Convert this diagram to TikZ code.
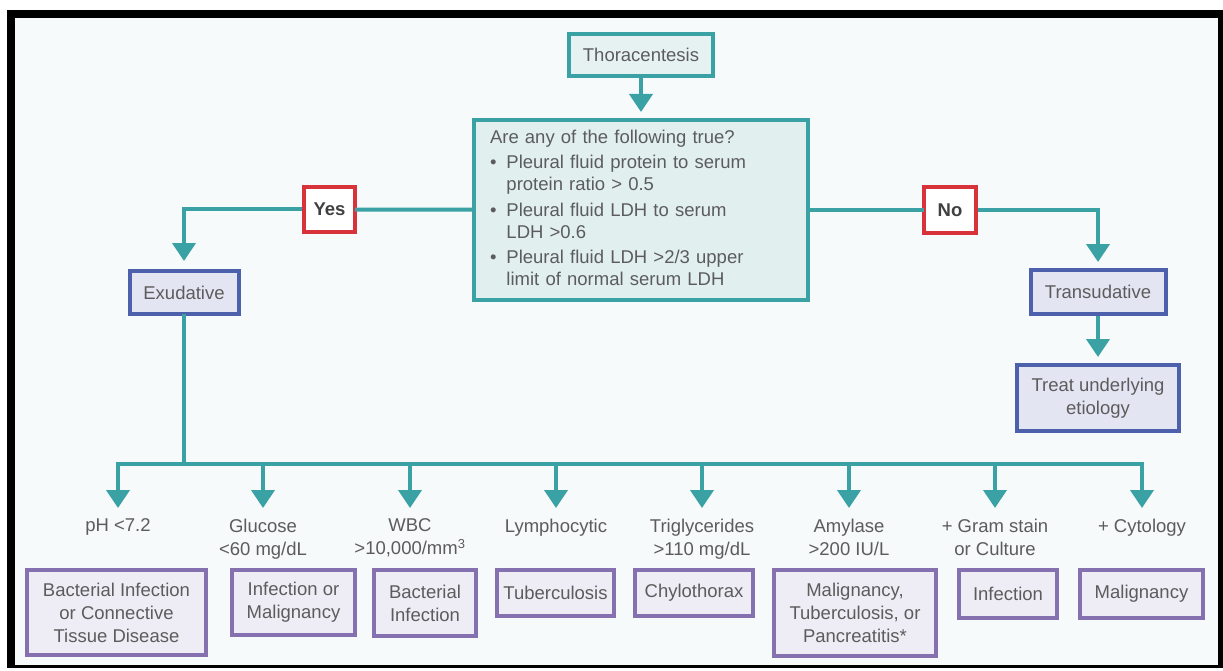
\documentclass[tikz,border=0pt]{standalone}
\usepackage{fontspec}
\setmainfont{Liberation Sans}
\usetikzlibrary{arrows.meta}

\definecolor{tealline}{HTML}{3AA2A4}
\definecolor{thorfill}{HTML}{E6F2F2}
\definecolor{questfill}{HTML}{E1EFEF}
\definecolor{redbox}{HTML}{D8333B}
\definecolor{exuborder}{HTML}{4C60AC}
\definecolor{exufill}{HTML}{E4E5F3}
\definecolor{leafborder}{HTML}{8570B0}
\definecolor{leaffill}{HTML}{EEECF5}
\definecolor{bgcol}{HTML}{F7FAFA}
\definecolor{txtgray}{HTML}{5C5C5C}

\begin{document}
\begin{tikzpicture}[x=1pt,y=-1pt,
			every node/.style={font=\fontsize{18.5}{23}\selectfont,text=txtgray,align=center},
			startbox/.style={draw=tealline,line width=4pt,fill=thorfill},
			questbox/.style={draw=tealline,line width=4pt,fill=questfill,align=left,text width=302pt,inner xsep=16pt,minimum height=180pt,font=\fontsize{18.5}{22}\selectfont},
			answer/.style={draw=redbox,line width=4pt,fill=white,text=black!75,font=\fontsize{18.5}{23}\selectfont\bfseries},
			typebox/.style={draw=exuborder,line width=4pt,fill=exufill},
			leaf/.style={draw=leafborder,line width=4pt,fill=leaffill,anchor=north},
			test/.style={anchor=north,inner sep=0pt,outer sep=0pt},
			link/.style={draw=tealline,line width=4pt,line cap=rect},
			arr/.style={draw=tealline,line width=4pt,-{Triangle[width=23pt,length=18pt]}}]

			      % 边框和底色
			      \useasboundingbox (0,0) rectangle (1223,671);
			      \fill[black] (7,10) rectangle (1223,668);                        % 黑框
			      \fill[bgcol] (15,18) rectangle (1218,665);                       % 底色

			      % 上部节点
			      \node[startbox,minimum width=144pt,minimum height=42pt] (thor) at (641,55) {Thoracentesis};
			      \node[questbox] (quest) at (641,210) {%
			        \begin{tabular}{@{}l@{\hspace{10pt}}l@{}}
			          \multicolumn{2}{@{}l@{}}{Are any of the following true?}\\[3pt]
			          \textbullet & Pleural fluid protein to serum\\
			                      & protein ratio > 0.5\\[4pt]
			          \textbullet & Pleural fluid LDH to serum\\
			                      & LDH >0.6\\[3pt]
			          \textbullet & Pleural fluid LDH >2/3 upper\\
			                      & limit of normal serum LDH
			        \end{tabular}};
			      \node[answer,minimum width=51pt,minimum height=45pt] (yes) at (329.5,209.5) {Yes};
			      \node[answer,minimum width=52pt,minimum height=46pt] (no) at (950,210) {No};
			      \node[typebox,minimum width=109pt,minimum height=43pt] (exu) at (184,292.5) {Exudative};
			      \node[typebox,minimum width=135pt,minimum height=44pt] (trans) at (1098,292) {Transudative};
			      \node[typebox,minimum width=162pt,minimum height=66pt] (treat) at (1098,398) {Treat underlying\\etiology};

			      % 上部连线
			      \draw[arr,shorten >=6pt] (thor) -- (quest);
			      \draw[link] (quest) -- (yes);
			      \draw[arr,shorten >=8pt] (yes) -| (exu);
			      \draw[link] (quest) -- (no);
			      \draw[arr,shorten >=6pt] (no) -| (trans);
			      \draw[arr,shorten >=6pt] (trans) -- (treat);

			      % 检查项目
			      \node[test] (ph) at (118,519) {pH <7.2};
			      \node[test] (glu) at (263,519) {Glucose\\<60 mg/dL};
			      \node[test] (wbc) at (410,519) {WBC\\>10,000/mm\textsuperscript{3}};
			      \node[test] (lym) at (556,519) {Lymphocytic};
			      \node[test] (tri) at (702,519) {Triglycerides\\>110 mg/dL};
			      \node[test] (amy) at (849,519) {Amylase\\>200 IU/L};
			      \node[test] (gram) at (995,519) {+ Gram stain\\or Culture};
			      \node[test] (cyt) at (1142,519) {+ Cytology};

			      % 诊断框
			      \node[leaf,minimum width=179pt,minimum height=85pt] (d1) at (116.5,568) {Bacterial Infection\\or Connective\\Tissue Disease};
			      \node[leaf,minimum width=123pt,minimum height=65pt] (d2) at (293.5,568) {Infection or\\Malignancy};
			      \node[leaf,minimum width=102pt,minimum height=66pt] (d3) at (425,568) {Bacterial\\Infection};
			      \node[leaf,minimum width=117pt,minimum height=46pt] (d4) at (555.5,568) {Tuberculosis};
			      \node[leaf,minimum width=118pt,minimum height=46pt] (d5) at (694,568) {Chylothorax};
			      \node[leaf,minimum width=162pt,minimum height=86pt] (d6) at (855,568) {Malignancy,\\Tuberculosis, or\\Pancreatitis*};
			      \node[leaf,minimum width=98pt,minimum height=48pt] (d7) at (1008,568) {Infection};
			      \node[leaf,minimum width=123pt,minimum height=48pt] (d8) at (1141.5,568) {Malignancy};

			      % 分支总线
			      \coordinate (bus) at (184,464);
			      \draw[link] (exu) -- (bus);
			      \draw[link] (bus -| ph) -- (bus -| cyt);
			      \draw[arr,shorten >=11pt] (bus -| ph) -- (ph);
			      \draw[arr,shorten >=11pt] (bus -| glu) -- (glu);
			      \draw[arr,shorten >=11pt] (bus -| wbc) -- (wbc);
			      \draw[arr,shorten >=11pt] (bus -| lym) -- (lym);
			      \draw[arr,shorten >=11pt] (bus -| tri) -- (tri);
			      \draw[arr,shorten >=11pt] (bus -| amy) -- (amy);
			      \draw[arr,shorten >=11pt] (bus -| gram) -- (gram);
			      \draw[arr,shorten >=11pt] (bus -| cyt) -- (cyt);

		      \end{tikzpicture}
\end{document}
